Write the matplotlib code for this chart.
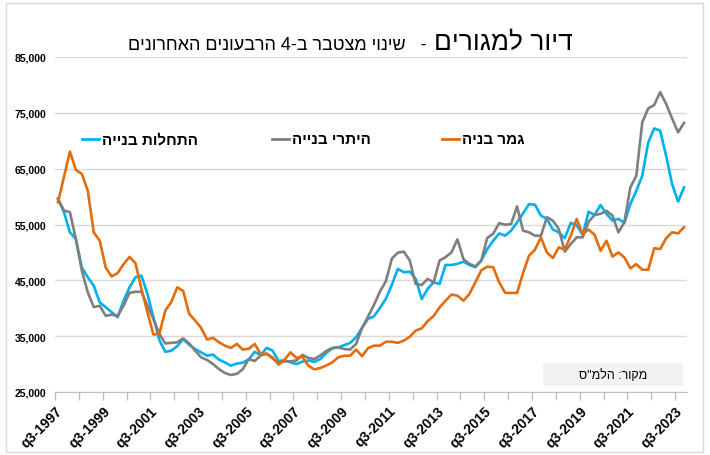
import matplotlib
matplotlib.use("Agg")
import matplotlib.pyplot as plt
from matplotlib import font_manager
from matplotlib.patches import Rectangle
from matplotlib.lines import Line2D
import numpy as np

plt.rcParams["font.family"] = ["Liberation Sans", "DejaVu Sans"]

# quarterly, q3-1997 .. q4-2023
first_year, first_q = 1997, 3
starts = [
    59600, 57200, 53600, 52400, 47300, 45550, 44050, 41050, 40200, 39300,
    38400, 41350, 43750, 45550, 45850, 42550, 38400, 34300, 32200, 32400,
    33200, 34500, 33450, 32700, 32100, 31500, 31700, 30800, 30300, 29700,
    30100, 30250, 30850, 32200, 31600, 32900, 32400, 30550, 30700, 30300,
    30000, 30450, 30650, 30400, 30900, 32000, 32800, 33000, 33400, 33800,
    34800, 36500, 38100, 38550, 40050, 41700, 44200, 47050, 46450, 46550,
    45250, 41650, 43450, 44650, 44350, 47750, 47750, 47950, 48350, 47750,
    47350, 48550, 50600, 52100, 53400, 53000, 53900, 55400, 57000, 58650,
    58550, 56600, 56000, 54100, 53600, 52550, 55300, 54850, 53150, 57300,
    56700, 58500, 56900, 55700, 56000, 55300, 58650, 61050, 63750, 69700,
    72200, 71800, 67300, 62250, 59100, 61650,
]
permits = [
    59600, 57500, 57200, 52400, 46750, 42850, 40200, 40450, 38650, 38850,
    38650, 40450, 42750, 42950, 42950, 40450, 38100, 35400, 33700, 33800,
    33900, 34600, 33700, 32400, 31200, 30750, 30000, 29100, 28400, 28050,
    28250, 29100, 30900, 30550, 31550, 31900, 31000, 30200, 30500, 30500,
    30650, 31650, 31100, 30900, 31550, 32350, 32900, 33000, 32700, 32600,
    33600, 36450, 38500, 40600, 43000, 44850, 48900, 49950, 50150, 48550,
    44350, 44150, 45250, 44650, 48550, 49150, 50000, 52350, 48800, 47950,
    47500, 48550, 52600, 53350, 55250, 54950, 55100, 58250, 53900, 53600,
    53000, 53000, 56300, 55700, 54200, 50150, 51500, 52700, 52700, 55500,
    56700, 56900, 57450, 56600, 53600, 55400, 61650, 63750, 73300, 75800,
    76400, 78700, 76600, 74000, 71500, 73200,
]
completions = [
    58980, 63500, 68050, 64800, 64050, 61050, 53600, 52100, 47300, 45700,
    46300, 47900, 49200, 48050, 43450, 39300, 35300, 35400, 39600, 41100,
    43750, 43100, 39000, 37800, 36500, 34400, 34700, 33900, 33300, 32900,
    33600, 32600, 32750, 33600, 31800, 31800, 31200, 29900, 30800, 32100,
    31100, 31300, 29700, 29050, 29300, 29750, 30300, 31200, 31500, 31500,
    32600, 31400, 32850, 33300, 33300, 34000, 34000, 33800, 34200, 34900,
    36000, 36400, 37700, 38600, 40150, 41350, 42450, 42250, 41350, 42550,
    44650, 46800, 47450, 47350, 44650, 42750, 42750, 42750, 46300, 49400,
    50500, 52700, 50000, 49000, 50900, 50500, 53000, 56000, 53300, 54100,
    53150, 50300, 52100, 49250, 50000, 49100, 47150, 47900, 46900, 46900,
    50750, 50600, 52550, 53600, 53400, 54500,
]

series_names = ["התחלות בנייה", "היתרי בנייה", "גמר בניה"]
series_colors = ["#00B0F0", "#7F7F7F", "#E46C0A"]
title_main = "דיור למגורים"
title_sub = "שינוי מצטבר ב-4 הרבעונים האחרונים"
source_text = 'מקור: הלמ"ס'


def rtl(s):
    # matplotlib has no bidi support, so feed the glyphs in visual order
    return s[::-1]


n = len(starts)
labels = []
for k in range(n):
    q = (first_q - 1 + k) % 4 + 1
    y = first_year + (first_q - 1 + k) // 4
    labels.append(f"q{q}-{y}")

# the title in the original is a condensed face; use it if it is installed
installed = {f.name for f in font_manager.fontManager.ttflist}
if "Liberation Sans Narrow" in installed:
    title_family = ["Liberation Sans Narrow", "DejaVu Sans"]
    main_size, sub_size = 23, 14
else:
    title_family = ["Liberation Sans", "DejaVu Sans"]
    main_size, sub_size = 19, 13

fig = plt.figure(figsize=(7.1, 4.56), dpi=100)
ax = fig.add_axes([55 / 710, 1 - 393 / 456, 632 / 710, 335 / 456])

x = np.arange(n)
for vals, name, col in zip([starts, permits, completions], series_names, series_colors):
    ax.plot(x, vals, color=col, lw=1.9, solid_joinstyle="round", label=name)

ax.set_xlim(-0.5, n - 0.5)
ax.set_ylim(25000, 85000)
ax.set_yticks(np.arange(25000, 85001, 10000))
ax.set_yticklabels([f"{v:,}" for v in range(25000, 85001, 10000)],
                   fontsize=7.5, fontweight="bold")
ax.grid(axis="y", color="#D9D9D9", lw=1)
ax.set_axisbelow(True)

major = np.arange(-0.5, n - 1, 8)
minor = np.arange(-0.5, n - 1, 4)
ax.set_xticks(major)
ax.set_xticklabels([labels[int(m + 0.5)] for m in major], rotation=45,
                   ha="right", va="top", rotation_mode="anchor",
                   fontsize=10, fontweight="bold")
ax.set_xticks(minor, minor=True)
ax.tick_params(axis="x", which="both", length=6, color="#BFBFBF", width=1, pad=2)
ax.tick_params(axis="y", length=0, pad=6)

for s in ["top", "right", "left"]:
    ax.spines[s].set_visible(False)
ax.spines["bottom"].set_color("#BFBFBF")

# outer chart border
fig.patches.append(Rectangle((6 / 710, 3 / 456), 697 / 710, 449 / 456,
                             transform=fig.transFigure, fill=False,
                             ec="#D9D9D9", lw=1))

# title: main (big) on the right, subtitle on the left
fig.text(573 / 710, 1 - 50 / 456, rtl(title_main), fontsize=main_size,
         family=title_family, ha="right", va="baseline")
fig.text(427 / 710, 1 - 50 / 456, rtl(title_sub) + "   -", fontsize=sub_size,
         family=title_family, ha="right", va="baseline")

# legend drawn by hand in Excel layout
leg_x = [82, 272, 442]
for lx, name, col in zip(leg_x, series_names, series_colors):
    fig.lines.append(Line2D([lx / 710, (lx + 17) / 710], [1 - 140 / 456] * 2,
                            transform=fig.transFigure, color=col, lw=2))
    fig.text((lx + 20) / 710, 1 - 140 / 456, rtl(name), fontsize=11,
             fontweight="bold", ha="left", va="center")

# source box
fig.patches.append(Rectangle((543 / 710, 1 - 387 / 456), 140 / 710, 23 / 456,
                             transform=fig.transFigure, fc="#F2F2F2", ec="none"))
fig.text(647 / 710, 1 - 376 / 456, rtl(source_text), fontsize=9,
         ha="right", va="center")

fig.savefig("out.png", dpi=100)
